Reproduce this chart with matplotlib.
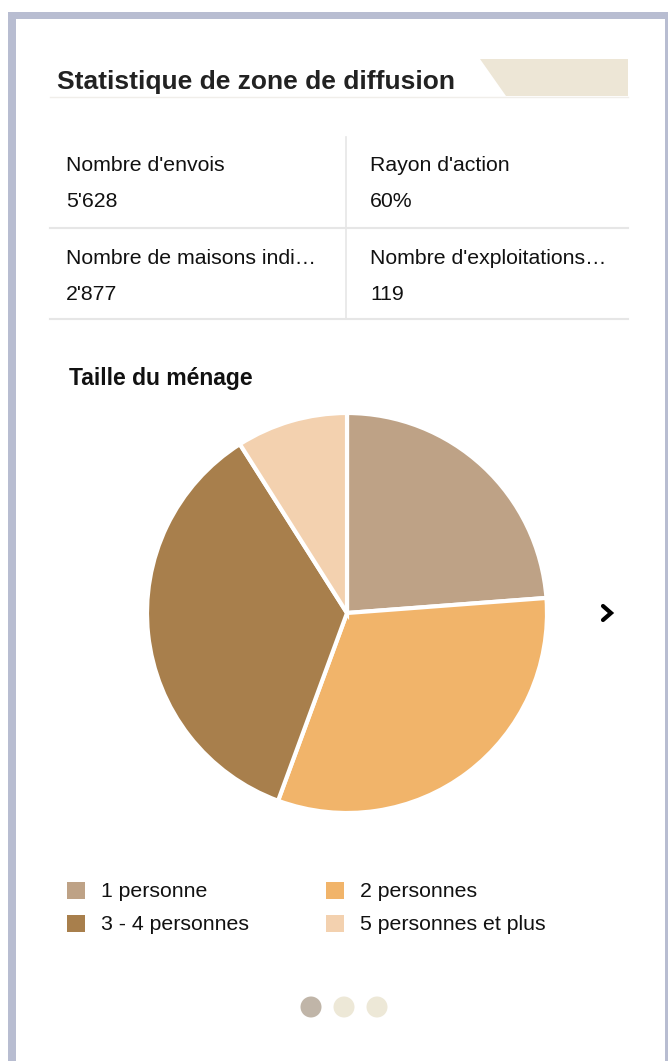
import matplotlib
matplotlib.use("Agg")
import matplotlib.pyplot as plt
from matplotlib.patches import Rectangle, Polygon, Circle

plt.rcParams['font.family'] = ['Liberation Sans', 'DejaVu Sans']

# data
title = "Statistique de zone de diffusion"
stat_labels = ["Nombre d'envois", "Rayon d'action",
               "Nombre de maisons indi\u2026", "Nombre d'exploitations\u2026"]
stat_values = ["5'628", "60%", "2'877", "119"]

chart_title = "Taille du ménage"
categories = ["1 personne", "2 personnes", "3 - 4 personnes", "5 personnes et plus"]
shares = [23.8, 31.8, 35.4, 9.0]
colors = ["#BEA286", "#F1B46A", "#A87F4C", "#F3D1AF"]

W, H = 668, 1061
fig = plt.figure(figsize=(W / 100, H / 100), dpi=100)
bg = fig.add_axes([0, 0, 1, 1])
bg.set_xlim(0, W)
bg.set_ylim(H, 0)
bg.axis('off')

# card frame
frame = "#B8BDD1"
bg.add_patch(Rectangle((8, 12), W - 8, H, color=frame, lw=0))
bg.add_patch(Rectangle((16, 19), 649, H, color="white", lw=0))

# header
bg.add_patch(Polygon([(480, 59), (628, 59), (628, 96), (506, 96)], closed=True,
                     color="#EDE6D6", lw=0))
bg.plot([50, 628], [96.5, 96.5], color="#F0EEEA", lw=1)
bg.text(57, 89, title, fontsize=19, fontweight='bold', color="#222222", va='baseline')

# stats table
line_c = "#E6E6E6"
bg.plot([346, 346], [137, 319], color=line_c, lw=1.2)
bg.plot([50, 628], [228, 228], color=line_c, lw=1.5)
bg.plot([50, 628], [319, 319], color=line_c, lw=1.5)
xs = [66, 370, 66, 370]
ys = [171, 171, 264, 264]
for x, y, lab, val in zip(xs, ys, stat_labels, stat_values):
    bg.text(x, y, lab, fontsize=15.3, color="#111111", va='baseline')
    bg.text(x, y + 36, val, fontsize=15.3, color="#111111", va='baseline')

# chart title
bg.text(69, 385, chart_title, fontsize=16.5, fontweight='bold', color="#111111", va='baseline')

# pie
cx, cy, r = 347, 613, 200
pax = fig.add_axes([(cx - r) / W, 1 - (cy + r) / H, 2 * r / W, 2 * r / H])
pax.pie(shares, colors=colors, startangle=90, counterclock=False,
        wedgeprops=dict(edgecolor="white", linewidth=3))
pax.set_xlim(-1, 1)
pax.set_ylim(-1, 1)
pax.axis('off')

# next arrow
bg.plot([603, 611, 603], [606, 613, 620], color="black", lw=3,
        solid_capstyle='round', solid_joinstyle='miter')

# legend
leg_x = [67, 326]
leg_y = [882, 915]
for i, (cat, col) in enumerate(zip(categories, colors)):
    x = leg_x[i % 2]
    y = leg_y[i // 2]
    bg.add_patch(Rectangle((x, y), 18, 17, color=col, lw=0))
    bg.text(x + 34, y + 15, cat, fontsize=15.3, color="#111111", va='baseline')

# pager dots
for i, dx in enumerate([311, 344, 377]):
    bg.add_patch(Circle((dx, 1007), 10.5, color="#C0B5A8" if i == 0 else "#EDE8D7", lw=0))

fig.savefig("out.png", dpi=100)
